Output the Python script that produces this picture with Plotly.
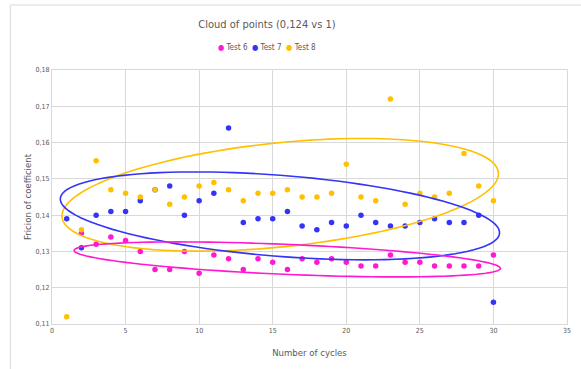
import numpy as np
import plotly.graph_objects as go

# Friction coefficient per cycle for three tests
cycles6 = list(range(2, 31))
test6 = [0.135, 0.132, 0.134, 0.133, 0.130, 0.125, 0.125, 0.130, 0.124, 0.129,
         0.128, 0.125, 0.128, 0.127, 0.125, 0.128, 0.127, 0.128, 0.127, 0.126,
         0.126, 0.129, 0.127, 0.127, 0.126, 0.126, 0.126, 0.126, 0.129]

cycles7 = list(range(1, 31))
test7 = [0.139, 0.131, 0.140, 0.141, 0.141, 0.144, 0.147, 0.148, 0.140, 0.144,
         0.146, 0.164, 0.138, 0.139, 0.139, 0.141, 0.137, 0.136, 0.138, 0.137,
         0.140, 0.138, 0.137, 0.137, 0.138, 0.139, 0.138, 0.138, 0.140, 0.116]

cycles8 = list(range(1, 31))
test8 = [0.112, 0.136, 0.155, 0.147, 0.146, 0.145, 0.147, 0.143, 0.145, 0.148,
         0.149, 0.147, 0.144, 0.146, 0.146, 0.147, 0.145, 0.145, 0.146, 0.154,
         0.145, 0.144, 0.172, 0.143, 0.146, 0.145, 0.146, 0.157, 0.148, 0.144]

series_names = ["Test 6", "Test 7", "Test 8"]

x_ticks = [0, 5, 10, 15, 20, 25, 30, 35]
y_ticks = [0.11, 0.12, 0.13, 0.14, 0.15, 0.16, 0.17, 0.18]

C6, C7, C8 = "#ff19d0", "#3434f5", "#ffc000"
GRID = "#d9d9d9"
TXT = "#595959"
FONT = "DejaVu Sans Condensed, Liberation Sans Narrow, Liberation Sans, sans-serif"

W, H = 581, 369
ML, MR, MT, MB = 52, 10, 70, 45
XR, YR = (0, 35), (0.11, 0.18)
sx = (W - ML - MR) / (XR[1] - XR[0])      # px per x unit
sy = (H - MT - MB) / (YR[1] - YR[0])      # px per y unit


def ellipse_path(cx, cy, a_px, b_px, deg, n=120):
    """Closed rotated ellipse; axes given in screen pixels, centre in data units."""
    t = np.linspace(0, 2 * np.pi, n)
    th = np.radians(deg)
    ex = a_px * np.cos(t) * np.cos(th) - b_px * np.sin(t) * np.sin(th)
    ey = a_px * np.cos(t) * np.sin(th) + b_px * np.sin(t) * np.cos(th)
    xs = cx + ex / sx
    ys = cy + ey / sy
    pts = [f"{x:.4f},{y:.5f}" for x, y in zip(xs, ys)]
    return "M " + " L ".join(pts) + " Z"


fig = go.Figure()
for xs_, ys_, nm, col in [(cycles6, test6, series_names[0], C6),
                          (cycles7, test7, series_names[1], C7),
                          (cycles8, test8, series_names[2], C8)]:
    fig.add_trace(go.Scatter(x=xs_, y=ys_, mode="markers", name=nm,
                             marker=dict(color=col, size=5.5), showlegend=False))

# grouping ellipses around each test's cloud
groups = [
    (15.51, 0.1456, 221, 52, 5.8, C8),
    (15.49, 0.1398, 222, 40.5, -4.5, C7),
    (15.99, 0.1278, 215, 15, -2.4, C6),
]
for cx, cy, a, b, ang, col in groups:
    fig.add_shape(type="path", path=ellipse_path(cx, cy, a, b, ang),
                  xref="x", yref="y", line=dict(color=col, width=1.6),
                  fillcolor="rgba(0,0,0,0)")

# outer chart frame
fig.add_shape(type="rect", xref="paper", yref="paper",
              x0=(10 - ML) / (W - ML - MR), x1=1.2,
              y0=-0.3, y1=(H - MB - 5) / (H - MT - MB),
              line=dict(color=GRID, width=1), layer="below")

# compact key above the plot
key = "&nbsp;&nbsp;".join(
    f"<span style='color:{c}'>●</span>&nbsp;{n}"
    for n, c in zip(series_names, [C6, C7, C8]))
fig.add_annotation(text=key, xref="paper", yref="paper",
                   x=(269 - ML) / (W - ML - MR), y=(H - MB - 48) / (H - MT - MB),
                   xanchor="center", yanchor="middle", showarrow=False,
                   font=dict(size=8, color=TXT))

fig.update_layout(
    width=W, height=H,
    margin=dict(l=ML, r=MR, t=MT, b=MB),
    paper_bgcolor="white", plot_bgcolor="white",
    separators=", ",
    font=dict(family=FONT, color=TXT),
    title=dict(text="Cloud of points (0,124 vs 1)", x=267 / W, xanchor="center",
               y=1 - 24 / H, yanchor="middle", font=dict(size=11, color=TXT)),
    showlegend=False,
)
fig.update_xaxes(range=list(XR), tickvals=x_ticks, ticktext=[str(v) for v in x_ticks],
                 showgrid=True, gridcolor=GRID, gridwidth=1,
                 showline=True, linecolor=GRID, mirror=True, zeroline=False,
                 ticks="", tickfont=dict(size=7, color=TXT),
                 title=dict(text="Number of cycles", font=dict(size=9.5, color=TXT), standoff=14))
fig.update_yaxes(range=list(YR), tickvals=y_ticks, tickformat=".2f",
                 showgrid=True, gridcolor=GRID, gridwidth=1,
                 showline=True, linecolor=GRID, mirror=True, zeroline=False,
                 ticks="", tickfont=dict(size=7, color=TXT),
                 title=dict(text="Fricion of coefficient", font=dict(size=9.5, color=TXT), standoff=2))

fig.write_html("out.html")
